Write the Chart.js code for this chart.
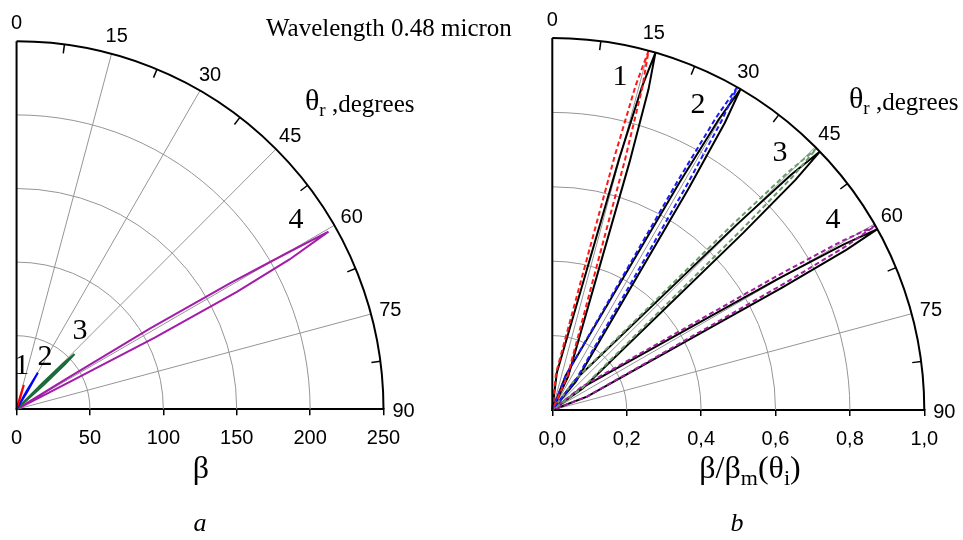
<!DOCTYPE html>
<html><head><meta charset="utf-8">
<script src="https://cdn.jsdelivr.net/npm/chart.js@4.4.0/dist/chart.umd.min.js"></script>
<style>
html,body{margin:0;padding:0;background:#fff;}
#wrap{position:relative;width:963px;height:540px;overflow:hidden;}
canvas{position:absolute;left:0;top:0;}
</style></head><body>
<div id="wrap"><canvas id="ca" width="963" height="540"></canvas><canvas id="cb" width="963" height="540"></canvas></div>
<script>
// ---------- axes / grid ----------
const aTicks = [0, 50, 100, 150, 200, 250];
const aTickLabels = ['0', '50', '100', '150', '200', '250'];
const aRings = [50, 100, 150, 200];
const bTicks = [0, 0.2, 0.4, 0.6, 0.8, 1.0];
const bTickLabels = ['0,0', '0,2', '0,4', '0,6', '0,8', '1,0'];
const bRings = [0.2, 0.4, 0.6, 0.8];
const angleLabels = [0, 15, 30, 45, 60, 75, 90];
const angleGrid = [15, 30, 45, 60, 75];
const angleMinor = [7.5, 22.5, 37.5, 52.5, 67.5, 82.5];

// ---------- panel a : beta vs theta_r (degrees) ----------
const aLobe1Theta = [16.7, 15.6, 16.7, 17.8, 16.7];
const aLobe1Beta  = [0, 8.5, 17.3, 8.5, 0];
const aLobe2Theta = [30.2, 29.0, 30.2, 31.4, 30.2];
const aLobe2Beta  = [0, 14, 28.8, 14, 0];
const aLobe3Theta = [46.4, 44.8, 45.6, 46.4, 47.2, 48.0, 46.4];
const aLobe3Beta  = [0, 25, 45, 54.5, 45, 25, 0];
const aLobe4Theta = [60.4, 58.6, 58.9, 59.5, 60.05, 60.4, 61.3, 62.0, 62.65, 62.8, 60.4];
const aLobe4Beta  = [0, 40, 106, 170, 212, 244.4, 212, 170, 106, 40, 0];

// ---------- panel b : beta/beta_m vs theta_r (degrees) ----------
const bRadii        = [0, 0.1, 0.7, 0.9, 1.0, 0.9, 0.7, 0.1, 0];
const bLobe1Black   = [16.1, 6.9, 14.9, 15.5, 16.1, 16.7, 17.3, 25.3, 16.1];
const bLobe1Red     = [15.0, 5.8, 13.8, 14.4, 15.0, 15.6, 16.2, 24.2, 15.0];
const bLobe2Black   = [30.4, 21.2, 29.2, 29.8, 30.4, 31.0, 31.6, 39.6, 30.4];
const bLobe2Blue    = [29.8, 21.3, 28.7, 29.25, 29.8, 30.35, 30.9, 38.3, 29.8];
const bLobe3Black   = [46.0, 37.2, 44.85, 45.43, 46.0, 46.57, 47.15, 54.8, 46.0];
const bLobe3Green   = [45.3, 36.8, 44.2, 44.75, 45.3, 45.85, 46.4, 53.8, 45.3];
const bLobe4Black   = [60.9, 52.9, 59.85, 60.38, 60.9, 61.42, 61.95, 68.9, 60.9];
const bLobe4Purple  = [60.3, 51.7, 59.17, 59.74, 60.3, 60.86, 61.43, 68.9, 60.3];

const lobeNames = ['1', '2', '3', '4'];

const SERIF = '"Liberation Serif", "Times New Roman", serif';
const SANS = '"Liberation Sans", Arial, sans-serif';
const deg = Math.PI / 180;

function polar(thetas, radii) {
  return thetas.map((t, i) => ({ x: radii[i] * Math.sin(t * deg), y: radii[i] * Math.cos(t * deg) }));
}

function drawRich(ctx, x, y, parts, align) {
  let w = 0;
  parts.forEach(p => { ctx.font = p.font; p.w = ctx.measureText(p.t).width; w += p.w; });
  let px = align === 'center' ? x - w / 2 : x;
  ctx.textAlign = 'left';
  ctx.textBaseline = 'alphabetic';
  parts.forEach(p => { ctx.font = p.font; ctx.fillText(p.t, px, y + (p.dy || 0)); px += p.w; });
}

const polarDeco = {
  id: 'polarDeco',
  beforeDatasetsDraw(chart, args, opts) {
    const ctx = chart.ctx, xs = chart.scales.x, ys = chart.scales.y;
    const cx = xs.getPixelForValue(0), cy = ys.getPixelForValue(0);
    const RX = xs.getPixelForValue(opts.max) - cx, RY = cy - ys.getPixelForValue(opts.max);
    ctx.save();
    ctx.strokeStyle = '#959595';
    ctx.lineWidth = 1;
    opts.rings.forEach(v => {
      const rx = xs.getPixelForValue(v) - cx, ry = cy - ys.getPixelForValue(v);
      ctx.beginPath(); ctx.ellipse(cx, cy, rx, ry, 0, -Math.PI / 2, 0); ctx.stroke();
    });
    angleGrid.forEach(a => {
      ctx.beginPath(); ctx.moveTo(cx, cy);
      ctx.lineTo(cx + RX * Math.sin(a * deg), cy - RY * Math.cos(a * deg)); ctx.stroke();
    });
    ctx.restore();
  },
  afterDatasetsDraw(chart, args, opts) {
    const ctx = chart.ctx, xs = chart.scales.x, ys = chart.scales.y;
    const cx = xs.getPixelForValue(0), cy = ys.getPixelForValue(0);
    const RX = xs.getPixelForValue(opts.max) - cx, RY = cy - ys.getPixelForValue(opts.max);
    ctx.save();
    ctx.strokeStyle = '#000';
    ctx.lineWidth = 2;
    ctx.beginPath(); ctx.ellipse(cx, cy, RX, RY, 0, -Math.PI / 2, 0); ctx.stroke();
    ctx.beginPath(); ctx.moveTo(cx, cy + 1); ctx.lineTo(cx, cy - RY); ctx.stroke();
    ctx.lineWidth = 1.5;
    angleMinor.forEach(a => {
      const s = Math.sin(a * deg), c = Math.cos(a * deg);
      ctx.beginPath();
      ctx.moveTo(cx + RX * s, cy - RY * c);
      ctx.lineTo(cx + (RX - 9) * s, cy - (RY - 9) * c);
      ctx.stroke();
    });
    ctx.fillStyle = '#000';
    ctx.font = '20px ' + SANS;
    ctx.textAlign = 'center';
    ctx.textBaseline = 'middle';
    angleLabels.forEach(a => {
      const s = Math.sin(a * deg), c = Math.cos(a * deg);
      ctx.fillText(String(a), cx + (RX + 20) * s, cy - (RY + 20) * c + 2);
    });
    ctx.font = '30px ' + SERIF;
    opts.lobeLabels.forEach((p, i) => ctx.fillText(lobeNames[i], p[0], p[1]));
    opts.texts.forEach(t => drawRich(ctx, t.x, t.y, t.parts, t.align));
    ctx.restore();
  }
};

function makeChart(id, cfg) {
  return new Chart(document.getElementById(id), {
    type: 'scatter',
    data: { datasets: cfg.datasets },
    options: {
      responsive: false, animation: false, events: [], devicePixelRatio: 1,
      layout: { padding: cfg.padding },
      plugins: { legend: { display: false }, tooltip: { enabled: false }, polarDeco: cfg.deco },
      elements: { point: { radius: 0 }, line: { tension: 0 } },
      scales: {
        x: {
          type: 'linear', position: 'bottom', min: 0, max: cfg.max,
          afterBuildTicks: s => { s.ticks = cfg.ticks.map(v => ({ value: v })); },
          afterFit: s => { s.height = 40; },
          ticks: { autoSkip: false, maxRotation: 0, padding: 11, color: '#000',
                   font: { family: SANS, size: 20 },
                   callback: (v, i) => cfg.tickLabels[i] },
          grid: { display: true, drawOnChartArea: false, drawTicks: true, tickLength: 6, color: '#000', lineWidth: 1.5 },
          border: { display: true, color: '#000', width: 2 }
        },
        y: { type: 'linear', display: false, min: 0, max: cfg.max }
      }
    },
    plugins: [polarDeco]
  });
}

function ds(data, color, dash) {
  return { data, showLine: true, borderColor: color, borderWidth: 2, borderDash: dash || [], pointRadius: 0, fill: false, clip: false };
}

const thetaParts = (x, y) => ({ x, y, align: 'left', parts: [
  { t: 'θ', font: '30px ' + SERIF },
  { t: 'r', font: '19px ' + SERIF, dy: 6 },
  { t: ' ,degrees', font: '25px ' + SERIF, dy: 2 }
]});

makeChart('ca', {
  max: 250, ticks: aTicks, tickLabels: aTickLabels,
  padding: { left: 16, right: 579.5, top: 41.3, bottom: 90.7 },
  datasets: [
    ds(polar(aLobe1Theta, aLobe1Beta), '#ff0000'),
    ds(polar(aLobe2Theta, aLobe2Beta), '#0000ff'),
    ds(polar(aLobe3Theta, aLobe3Beta), '#1c6b3a'),
    ds(polar(aLobe4Theta, aLobe4Beta), '#a31caa')
  ],
  deco: {
    max: 250, rings: aRings,
    lobeLabels: [[21.7, 366], [45, 357], [80, 331], [296, 220]],
    texts: [
      { x: 266, y: 36, align: 'left', parts: [{ t: 'Wavelength 0.48 micron', font: '25px ' + SERIF }] },
      thetaParts(305, 110),
      { x: 201, y: 478, align: 'center', parts: [{ t: 'β', font: '32px ' + SERIF }] },
      { x: 200, y: 531, align: 'center', parts: [{ t: 'a', font: 'italic 26px ' + SERIF }] }
    ]
  }
});

makeChart('cb', {
  max: 1, ticks: bTicks, tickLabels: bTickLabels,
  padding: { left: 552.3, right: 38.7, top: 38, bottom: 90 },
  datasets: [
    ds(polar(bLobe1Red, bRadii), '#ff1a1a', [5, 3]),
    ds(polar(bLobe2Blue, bRadii), '#1a1aff', [5, 3]),
    ds(polar(bLobe3Green, bRadii), '#6b9b6b', [5, 3]),
    ds(polar(bLobe4Purple, bRadii), '#a020a0', [5, 3]),
    ds(polar(bLobe1Black, bRadii), '#000000'),
    ds(polar(bLobe2Black, bRadii), '#000000'),
    ds(polar(bLobe3Black, bRadii), '#000000'),
    ds(polar(bLobe4Black, bRadii), '#000000')
  ],
  deco: {
    max: 1, rings: bRings,
    lobeLabels: [[620, 77], [698, 105], [780, 153], [833, 220]],
    texts: [
      thetaParts(849, 108),
      { x: 750, y: 478, align: 'center', parts: [
        { t: 'β/β', font: '32px ' + SERIF },
        { t: 'm', font: '22px ' + SERIF, dy: 7 },
        { t: '(θ', font: '32px ' + SERIF },
        { t: 'i', font: '22px ' + SERIF, dy: 7 },
        { t: ')', font: '32px ' + SERIF }
      ]},
      { x: 737, y: 531, align: 'center', parts: [{ t: 'b', font: 'italic 26px ' + SERIF }] }
    ]
  }
});
</script>
</body></html>
